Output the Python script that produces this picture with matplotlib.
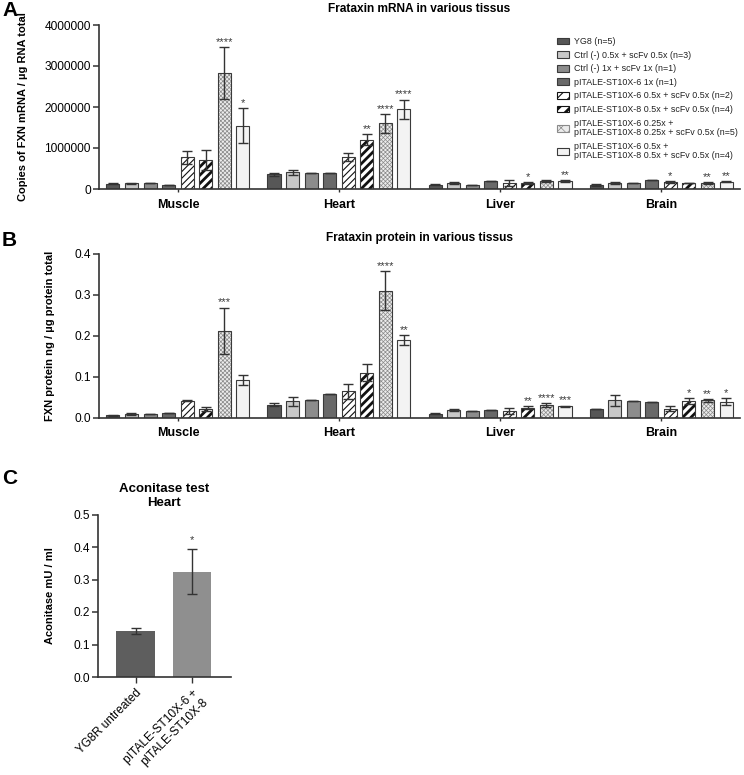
import numpy as np
import matplotlib
matplotlib.use("Agg")
import matplotlib.pyplot as plt
from matplotlib.patches import Patch, Rectangle
from matplotlib.legend_handler import HandlerPatch
from matplotlib.ticker import FormatStrFormatter

plt.rcParams['font.family'] = ['Liberation Sans', 'DejaVu Sans']

# ----------------------------
# Data
# ----------------------------
tissues = ['Muscle', 'Heart', 'Liver', 'Brain']
series = ['YG8 (n=5)',
          'Ctrl (-) 0.5x + scFv 0.5x (n=3)',
          'Ctrl (-) 1x + scFv 1x (n=1)',
          'pITALE-ST10X-6 1x (n=1)',
          'pITALE-ST10X-6 0.5x + scFv 0.5x (n=2)',
          'pITALE-ST10X-8 0.5x + scFv 0.5x (n=4)',
          'pITALE-ST10X-6 0.25x +\npITALE-ST10X-8 0.25x + scFv 0.5x (n=5)',
          'pITALE-ST10X-6 0.5x +\npITALE-ST10X-8 0.5x + scFv 0.5x (n=4)']

# A: FXN mRNA copies / ug RNA
mrna_muscle = [130000, 140000, 140000, 100000, 770000, 700000, 2830000, 1540000]
mrna_heart = [355000, 405000, 400000, 380000, 780000, 1200000, 1600000, 1940000]
mrna_liver = [100000, 140000, 95000, 200000, 150000, 150000, 190000, 200000]
mrna_brain = [100000, 150000, 140000, 210000, 170000, 145000, 140000, 180000]
mrna_muscle_err = [15000, 10000, 0, 0, 150000, 240000, 630000, 430000]
mrna_heart_err = [30000, 70000, 0, 0, 100000, 130000, 230000, 240000]
mrna_liver_err = [10000, 20000, 0, 0, 70000, 20000, 20000, 20000]
mrna_brain_err = [15000, 20000, 0, 0, 20000, 10000, 20000, 20000]
mrna_stars = [['', '', '', '', '', '', '****', '*'],
              ['', '', '', '', '', '**', '****', '****'],
              ['', '', '', '', '', '*', '', '**'],
              ['', '', '', '', '*', '', '**', '**']]

# B: FXN protein ng / ug protein
prot_muscle = [0.005, 0.009, 0.009, 0.010, 0.041, 0.021, 0.212, 0.091]
prot_heart = [0.031, 0.040, 0.043, 0.058, 0.064, 0.110, 0.310, 0.190]
prot_liver = [0.009, 0.019, 0.016, 0.018, 0.016, 0.024, 0.031, 0.027]
prot_brain = [0.021, 0.042, 0.041, 0.039, 0.022, 0.040, 0.042, 0.039]
prot_muscle_err = [0.001, 0.002, 0, 0, 0.001, 0.005, 0.057, 0.012]
prot_heart_err = [0.004, 0.011, 0, 0, 0.019, 0.021, 0.048, 0.012]
prot_liver_err = [0.001, 0.002, 0, 0, 0.007, 0.003, 0.005, 0.002]
prot_brain_err = [0.001, 0.013, 0, 0, 0.007, 0.008, 0.004, 0.008]
prot_stars = [['', '', '', '', '', '', '***', ''],
              ['', '', '', '', '', '', '****', '**'],
              ['', '', '', '', '', '**', '****', '***'],
              ['', '', '', '', '', '*', '**', '*']]

# C: aconitase
acon_labels = ['YG8R untreated', 'pITALE-ST10X-6 +\npITALE-ST10X-8']
acon_values = [0.142, 0.324]
acon_err = [0.010, 0.070]
acon_stars = ['', '*']

# ----------------------------
# Styles
# ----------------------------
EDGE = '#3a3a3a'
styles = [
    dict(face='#575757'),
    dict(face='#c8c8c8'),
    dict(face='#8c8c8c'),
    dict(face='#696969'),
    dict(face='white', hatch='/////', hcol='#111111', hlw=0.8),
    dict(face='white', hatch='////', hcol='#111111', hlw=2.0),
    dict(face='#ececec', hatch='xxxxxxxx', hcol='#8a8a8a', hlw=0.5),
    dict(face='#f3f3f3'),
]

W, H = 744, 775
fig = plt.figure(figsize=(W / 100, H / 100), dpi=100)


def add_axes_px(l, t, r, b):
    return fig.add_axes([l / W, 1 - b / H, (r - l) / W, (b - t) / H])


def style_axes(ax):
    for s in ['top', 'right']:
        ax.spines[s].set_visible(False)
    for s in ['left', 'bottom']:
        ax.spines[s].set_linewidth(1.2)
        ax.spines[s].set_color('#333333')
    ax.tick_params(axis='y', length=4, width=1.1, color='#333333', labelsize=8.6, pad=2)


def hatched_bar(ax, x, h, width, st):
    if 'hatch' in st:
        with plt.rc_context({'hatch.linewidth': st['hlw']}):
            bars = ax.bar(x, h, width, color=st['face'], edgecolor=st['hcol'],
                          hatch=st['hatch'], linewidth=0, zorder=2)
        for b in bars:
            if hasattr(b, 'set_hatch_linewidth'):
                b.set_hatch_linewidth(st['hlw'])
        ax.bar(x, h, width, fill=False, edgecolor=EDGE, linewidth=0.8, zorder=3)
    else:
        ax.bar(x, h, width, color=st['face'], edgecolor=EDGE, linewidth=0.8, zorder=2)


def grouped_panel(ax, means, errs, stars, ymax, yticks, fmt, ylabel, title, label_x):
    means = np.array(means)
    errs = np.array(errs)
    pitch, width = 0.1153, 0.081
    xg = np.arange(len(tissues))
    for i, st in enumerate(styles):
        x = xg + (i - 3.5) * pitch
        hatched_bar(ax, x, means[:, i], width, st)
        ax.errorbar(x, means[:, i], yerr=errs[:, i], fmt='none', ecolor='#333333',
                    elinewidth=1.0, capsize=3.3, capthick=1.0, zorder=4)
        for g in range(len(tissues)):
            if stars[g][i]:
                ax.annotate(stars[g][i], (x[g], means[g, i] + errs[g, i]),
                            xytext=(0, 1.5), textcoords='offset points',
                            ha='center', va='baseline', fontsize=8, color='#3a3a3a')
    ax.set_xlim(-0.49, 3.49)
    ax.set_ylim(0, ymax)
    ax.set_yticks(yticks)
    ax.yaxis.set_major_formatter(FormatStrFormatter(fmt))
    ax.set_xticks(xg)
    ax.set_xticklabels(tissues, fontsize=9, fontweight='bold')
    ax.tick_params(axis='x', length=2, width=1, color='#333333', pad=5)
    style_axes(ax)
    ax.set_ylabel(ylabel, fontsize=8, fontweight='bold')
    ax.yaxis.set_label_coords(label_x, 0.5)
    ax.set_title(title, fontsize=8.6, fontweight='bold', pad=9)


# ----------------------------
# Panel A
# ----------------------------
axA = add_axes_px(99, 25, 740, 189)
grouped_panel(axA,
              [mrna_muscle, mrna_heart, mrna_liver, mrna_brain],
              [mrna_muscle_err, mrna_heart_err, mrna_liver_err, mrna_brain_err],
              mrna_stars, 4000000, [0, 1000000, 2000000, 3000000, 4000000], '%d',
              'Copies of FXN mRNA / µg RNA total', 'Frataxin mRNA in various tissus', -0.11)

# legend swatches, each made under its own hatch line width
handles = []
handle_style = {}
for st in styles:
    with plt.rc_context({'hatch.linewidth': st.get('hlw', 1.0)}):
        if 'hatch' in st:
            p = Patch(facecolor=st['face'], edgecolor=st['hcol'], hatch=st['hatch'][:3], linewidth=0.8)
        else:
            p = Patch(facecolor=st['face'], edgecolor=EDGE, linewidth=0.8)
    handles.append(p)
    handle_style[id(p)] = st


def make_swatch(legend, orig_handle, xdescent, ydescent, width, height, fontsize):
    st = handle_style[id(orig_handle)]
    with plt.rc_context({'hatch.linewidth': st.get('hlw', 1.0)}):
        r = Rectangle((-xdescent, -ydescent), width, height)
    return r


class SwatchHandler(HandlerPatch):
    def create_artists(self, legend, orig_handle, xdescent, ydescent, width, height,
                       fontsize, trans):
        st = handle_style[id(orig_handle)]
        with plt.rc_context({'hatch.linewidth': st.get('hlw', 1.0)}):
            arts = super().create_artists(legend, orig_handle, xdescent, ydescent,
                                          width, height, fontsize, trans)
        for a in arts:
            if hasattr(a, 'set_hatch_linewidth'):
                a.set_hatch_linewidth(st.get('hlw', 1.0))
        return arts


leg = fig.legend(handles, series, loc='upper left', bbox_to_anchor=(557 / W, 1 - 37 / H),
                 frameon=False, fontsize=6.4, handlelength=1.4, handleheight=0.8,
                 handletextpad=0.55, labelspacing=0.52, borderpad=0, borderaxespad=0,
                 handler_map={Patch: SwatchHandler(patch_func=make_swatch)})
for t in leg.get_texts():
    t.set_linespacing(1.05)
    t.set_color('#222222')

# ----------------------------
# Panel B
# ----------------------------
axB = add_axes_px(99, 254, 740, 417.5)
grouped_panel(axB,
              [prot_muscle, prot_heart, prot_liver, prot_brain],
              [prot_muscle_err, prot_heart_err, prot_liver_err, prot_brain_err],
              prot_stars, 0.4, [0.0, 0.1, 0.2, 0.3, 0.4], '%.1f',
              'FXN protein ng / µg protein total', 'Frataxin protein in various tissus', -0.0686)

# ----------------------------
# Panel C
# ----------------------------
axC = add_axes_px(98, 514.5, 231, 677)
xc = np.arange(len(acon_values))
axC.bar(xc, acon_values, 0.67, color=['#5e5e5e', '#8f8f8f'], edgecolor='none', zorder=2)
axC.errorbar(xc, acon_values, yerr=acon_err, fmt='none', ecolor='#333333',
             elinewidth=1.0, capsize=3.6, capthick=1.0, zorder=3)
for x, v, e, s in zip(xc, acon_values, acon_err, acon_stars):
    if s:
        axC.annotate(s, (x, v + e), xytext=(0, 4), textcoords='offset points',
                     ha='center', va='baseline', fontsize=8, color='#3a3a3a')
axC.set_xlim(-0.66, 1.68)
axC.set_ylim(0, 0.5)
axC.set_yticks([0.0, 0.1, 0.2, 0.3, 0.4, 0.5])
axC.yaxis.set_major_formatter(FormatStrFormatter('%.1f'))
axC.set_xticks(xc)
axC.set_xticklabels(acon_labels, rotation=45, ha='right', rotation_mode='anchor', fontsize=8.6)
axC.tick_params(axis='x', length=4, width=1, color='#333333', pad=3)
style_axes(axC)
axC.set_ylabel('Aconitase mU / ml', fontsize=8, fontweight='bold')
axC.yaxis.set_label_coords(-0.323, 0.5)
axC.set_title('Aconitase test\nHeart', fontsize=9.5, fontweight='bold', pad=6)

# panel letters
fig.text(2 / W, 1 - 10 / H, 'A', fontsize=15, fontweight='bold', va='center')
fig.text(2 / W, 1 - 240 / H, 'B', fontsize=15, fontweight='bold', va='center')
fig.text(2 / W, 1 - 478 / H, 'C', fontsize=15, fontweight='bold', va='center')

fig.savefig('out.png', dpi=100)
